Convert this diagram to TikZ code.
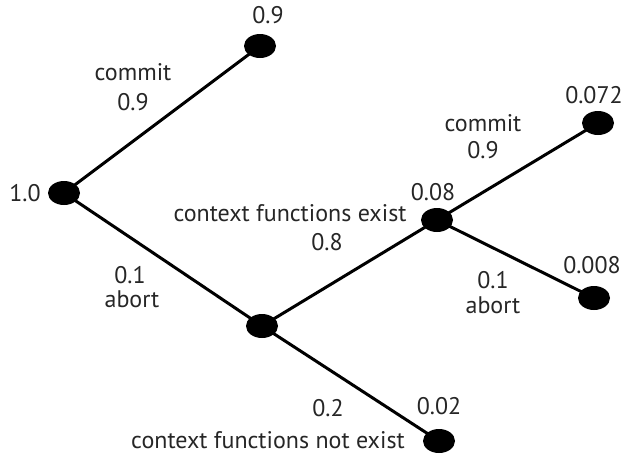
\documentclass[tikz,border=0pt]{standalone}
\usepackage{fontspec}
\setmainfont{PT Sans}
\usetikzlibrary{shapes.geometric}
\begin{document}
\begin{tikzpicture}[x=1pt,y=-1pt,
  leaf/.style={ellipse,fill=black,minimum width=32pt,minimum height=24pt,inner sep=0pt},
  edge/.style={line width=3pt,black},
  lbl/.style={font=\fontsize{24}{27}\selectfont,inner sep=0pt,text=black!85}]
\useasboundingbox (0,0) rectangle (624,459);
\node[leaf] (root) at (64,193) {};
\node[leaf] (top) at (260,46) {};
\node[leaf] (mid) at (262,326) {};
\node[leaf] (n08) at (437,220) {};
\node[leaf] (n072) at (598,123) {};
\node[leaf] (n008) at (594,298) {};
\node[leaf] (n02) at (439,441) {};
\draw[edge] (root.center) -- (top.center);
\draw[edge] (root.center) -- (mid.center);
\draw[edge] (mid.center) -- (n08.center);
\draw[edge] (mid.center) -- (n02.center);
\draw[edge] (n08.center) -- (n072.center);
\draw[edge] (n08.center) -- (n008.center);
\node[lbl] (l10) at (25,193) {1.0};
\node[lbl] (l09) at (268,15) {0.9};
\node[lbl] (lc1) at (133,72) {commit};
\node[lbl] (lp1) at (133,102) {0.9};
\node[lbl] (lp2) at (130,275) {0.1};
\node[lbl] (la2) at (132,299) {abort};
\node[lbl] (lce) at (290,213) {context functions exist};
\node[lbl] (lp3) at (327,242) {0.8};
\node[lbl] (l008a) at (433,192) {0.08};
\node[lbl] (lc2) at (483,123) {commit};
\node[lbl] (lp4) at (483,150) {0.9};
\node[lbl] (l072) at (594,95) {0.072};
\node[lbl] (l0008) at (592,265) {0.008};
\node[lbl] (lp5) at (493,280) {0.1};
\node[lbl] (la5) at (493,305) {abort};
\node[lbl] (l002) at (439,406) {0.02};
\node[lbl] (lp6) at (328,408) {0.2};
\node[lbl] (lcn) at (268,440) {context functions not exist};
\end{tikzpicture}
\end{document}
